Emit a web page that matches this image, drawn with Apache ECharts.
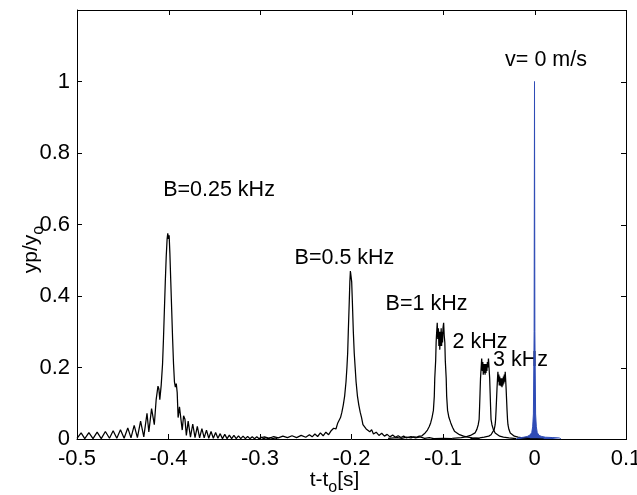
<!DOCTYPE html>
<html>
<head>
<meta charset="utf-8">
<script src="https://cdn.jsdelivr.net/npm/echarts@6/dist/echarts.min.js"></script>
<style>
html,body{margin:0;padding:0;background:#fff;}
#chart{width:637px;height:495px;}
</style>
</head>
<body>
<div id="chart"></div>
<script>
// ---- tick values and labels ----
const xTickValues = [-0.5, -0.4, -0.3, -0.2, -0.1, 0, 0.1];
const xTickLabels = ['-0.5', '-0.4', '-0.3', '-0.2', '-0.1', '0', '0.1'];
const yTickValues = [0, 0.2, 0.4, 0.6, 0.8, 1];
const yTickLabels = ['0', '0.2', '0.4', '0.6', '0.8', '1'];
const yFrameTicks = [0, 0.2, 0.4, 0.6, 0.8, 1, 1.2];

// ---- series: B = 0.25 kHz ----
const b025 = [
  [-0.5, 0.002], [-0.4955, 0.017], [-0.4915, 0.001], [-0.487, 0.018], [-0.4825, 0.001],
  [-0.478, 0.019], [-0.4735, 0.001], [-0.469, 0.021], [-0.4645, 0.002], [-0.4605, 0.023],
  [-0.4565, 0.002], [-0.4525, 0.026], [-0.4485, 0.002], [-0.4445, 0.031], [-0.441, 0.003],
  [-0.4375, 0.038], [-0.434, 0.004], [-0.4305, 0.050], [-0.427, 0.006], [-0.4235, 0.072],
  [-0.4215, 0.02], [-0.4185, 0.085], [-0.417, 0.08], [-0.4155, 0.04], [-0.4135, 0.11],
  [-0.4115, 0.148], [-0.4105, 0.14], [-0.4095, 0.11], [-0.408, 0.15], [-0.4065, 0.21],
  [-0.4055, 0.28], [-0.4045, 0.36], [-0.4035, 0.44], [-0.4025, 0.51], [-0.4015, 0.56],
  [-0.4008, 0.575], [-0.4, 0.56], [-0.3993, 0.57], [-0.3985, 0.52], [-0.3975, 0.44],
  [-0.3965, 0.36], [-0.3955, 0.28], [-0.3945, 0.21], [-0.3935, 0.16], [-0.3925, 0.145],
  [-0.3915, 0.155], [-0.3905, 0.13], [-0.3895, 0.06], [-0.388, 0.09], [-0.3865, 0.085],
  [-0.385, 0.025], [-0.3835, 0.065], [-0.382, 0.055], [-0.3805, 0.01], [-0.3785, 0.05],
  [-0.376, 0.005], [-0.3735, 0.042], [-0.371, 0.004], [-0.3685, 0.035], [-0.366, 0.003],
  [-0.3635, 0.029], [-0.361, 0.003], [-0.3585, 0.025], [-0.356, 0.002], [-0.3535, 0.021],
  [-0.351, 0.002], [-0.3485, 0.018], [-0.346, 0.002], [-0.3435, 0.015], [-0.341, 0.001],
  [-0.3385, 0.013], [-0.336, 0.001], [-0.3335, 0.011], [-0.331, 0.001], [-0.3285, 0.010],
  [-0.326, 0.001], [-0.3235, 0.009], [-0.321, 0.001], [-0.3185, 0.008], [-0.316, 0.001],
  [-0.3135, 0.007], [-0.311, 0.001], [-0.3085, 0.006], [-0.306, 0.001], [-0.3035, 0.006],
  [-0.301, 0.001], [-0.2985, 0.005], [-0.296, 0.001], [-0.2935, 0.004], [-0.291, 0.001],
  [-0.2885, 0.004], [-0.286, 0.001], [-0.2835, 0.003], [-0.281, 0.001]
];

// ---- series: B = 0.5 kHz ----
const b05 = [
  [-0.30, 0.003], [-0.295, 0.006], [-0.29, 0.002], [-0.285, 0.007], [-0.28, 0.003],
  [-0.275, 0.008], [-0.27, 0.004], [-0.265, 0.009], [-0.26, 0.004], [-0.255, 0.010],
  [-0.25, 0.005], [-0.246, 0.012], [-0.243, 0.006], [-0.240, 0.014], [-0.237, 0.007],
  [-0.234, 0.017], [-0.231, 0.009], [-0.228, 0.019], [-0.225, 0.012], [-0.222, 0.024],
  [-0.2195, 0.03], [-0.217, 0.028], [-0.215, 0.045], [-0.2135, 0.04], [-0.212, 0.06],
  [-0.2105, 0.075], [-0.209, 0.095], [-0.2075, 0.12], [-0.206, 0.16], [-0.205, 0.2],
  [-0.2042, 0.24], [-0.2035, 0.3], [-0.2025, 0.38], [-0.2018, 0.44], [-0.2012, 0.47],
  [-0.2005, 0.455], [-0.1998, 0.44], [-0.199, 0.38], [-0.198, 0.3], [-0.197, 0.24],
  [-0.196, 0.2], [-0.195, 0.16], [-0.1935, 0.12], [-0.192, 0.095], [-0.1905, 0.075],
  [-0.189, 0.06], [-0.1875, 0.04], [-0.186, 0.045], [-0.184, 0.028], [-0.182, 0.033],
  [-0.18, 0.02], [-0.178, 0.026], [-0.176, 0.014], [-0.173, 0.019], [-0.17, 0.01],
  [-0.167, 0.016], [-0.164, 0.008], [-0.161, 0.013], [-0.158, 0.006], [-0.155, 0.011],
  [-0.152, 0.005], [-0.149, 0.009], [-0.146, 0.004], [-0.143, 0.008], [-0.14, 0.003],
  [-0.135, 0.007], [-0.13, 0.003], [-0.125, 0.006], [-0.12, 0.002], [-0.115, 0.004],
  [-0.11, 0.001], [-0.1, 0.002], [-0.09, 0.001]
];

// ---- series: B = 1 kHz ----
const b1 = [
  [-0.16, 0.002], [-0.15, 0.004], [-0.145, 0.002], [-0.14, 0.005], [-0.135, 0.003],
  [-0.132, 0.006], [-0.129, 0.005], [-0.126, 0.008], [-0.123, 0.009], [-0.1195, 0.017],
  [-0.117, 0.025], [-0.115, 0.035], [-0.1135, 0.045], [-0.112, 0.06], [-0.1105, 0.08],
  [-0.1095, 0.12], [-0.109, 0.17], [-0.108, 0.22], [-0.1075, 0.27], [-0.107, 0.295],
  [-0.1063, 0.325], [-0.1057, 0.28], [-0.105, 0.31], [-0.1045, 0.26], [-0.104, 0.30],
  [-0.1035, 0.25], [-0.103, 0.30], [-0.1025, 0.26], [-0.102, 0.31], [-0.1015, 0.26],
  [-0.101, 0.30], [-0.1005, 0.27], [-0.1, 0.31], [-0.0993, 0.325], [-0.0987, 0.29],
  [-0.098, 0.27], [-0.0975, 0.22], [-0.0965, 0.17], [-0.096, 0.12], [-0.095, 0.08],
  [-0.0935, 0.06], [-0.0915, 0.045], [-0.0895, 0.032], [-0.0875, 0.022], [-0.0855, 0.017],
  [-0.082, 0.012], [-0.0775, 0.008], [-0.073, 0.005], [-0.068, 0.003], [-0.06, 0.001]
];

// ---- series: B = 2 kHz ----
const b2 = [
  [-0.09, 0.002], [-0.08, 0.004], [-0.075, 0.006], [-0.07, 0.01], [-0.065, 0.017],
  [-0.063, 0.027], [-0.0615, 0.04], [-0.0605, 0.055], [-0.06, 0.09], [-0.0595, 0.13],
  [-0.059, 0.17], [-0.0583, 0.2], [-0.0577, 0.225], [-0.057, 0.19], [-0.0565, 0.215],
  [-0.056, 0.18], [-0.0555, 0.21], [-0.055, 0.185], [-0.0545, 0.21], [-0.054, 0.18],
  [-0.0535, 0.21], [-0.053, 0.185], [-0.0525, 0.21], [-0.052, 0.19], [-0.0515, 0.215],
  [-0.051, 0.2], [-0.0503, 0.225], [-0.0497, 0.2], [-0.049, 0.17], [-0.0485, 0.13],
  [-0.048, 0.09], [-0.0475, 0.055], [-0.0465, 0.04], [-0.045, 0.027], [-0.043, 0.017],
  [-0.041, 0.012], [-0.038, 0.008], [-0.034, 0.005], [-0.028, 0.003], [-0.02, 0.001]
];

// ---- series: B = 3 kHz ----
const b3 = [
  [-0.07, 0.001], [-0.06, 0.003], [-0.055, 0.005], [-0.05, 0.008], [-0.0475, 0.012],
  [-0.0455, 0.017], [-0.044, 0.027], [-0.043, 0.04], [-0.0425, 0.055], [-0.042, 0.08],
  [-0.0415, 0.11], [-0.041, 0.14], [-0.0405, 0.165], [-0.04, 0.188], [-0.0395, 0.16],
  [-0.039, 0.18], [-0.0385, 0.15], [-0.038, 0.175], [-0.0375, 0.15], [-0.037, 0.17],
  [-0.0365, 0.148], [-0.036, 0.17], [-0.0355, 0.145], [-0.035, 0.17], [-0.0345, 0.15],
  [-0.034, 0.175], [-0.0335, 0.155], [-0.033, 0.18], [-0.0325, 0.16], [-0.032, 0.188],
  [-0.0315, 0.165], [-0.031, 0.14], [-0.0305, 0.11], [-0.03, 0.08], [-0.0295, 0.055],
  [-0.029, 0.04], [-0.028, 0.027], [-0.0265, 0.017], [-0.0245, 0.012], [-0.022, 0.008],
  [-0.018, 0.005], [-0.013, 0.003], [-0.005, 0.001], [0.01, 0.0]
];

// ---- series: v = 0 m/s ----
const v0 = [
  [-0.02, 0.0], [-0.017, 0.003], [-0.012, 0.005], [-0.008, 0.007], [-0.005, 0.011],
  [-0.003, 0.018], [-0.002, 0.034], [-0.0012, 0.07], [-0.0004, 0.3], [0, 1.0],
  [0.0004, 0.3], [0.0012, 0.07], [0.002, 0.034], [0.003, 0.018], [0.005, 0.01],
  [0.008, 0.007], [0.012, 0.005], [0.02, 0.004], [0.027, 0.003], [0.029, 0.0]
];

// ---- annotation texts and anchor (data coords) ----
const noteTexts = ['B=0.25 kHz', 'B=0.5 kHz', 'B=1 kHz', '2 kHz', '3 kHz', 'v= 0 m/s'];
const noteX = [-0.3448, -0.2077, -0.118, -0.0596, -0.0153, 0.0126];
const noteY = [0.696, 0.506, 0.377, 0.271, 0.22, 1.059];

const X_MIN = -0.5, X_MAX = 0.1, Y_MIN = 0, Y_MAX = 1.2;
const FONT = 'Liberation Sans, Arial, sans-serif';
const fmtX = v => { const i = xTickValues.findIndex(t => Math.abs(t - v) < 1e-9); return i >= 0 ? xTickLabels[i] : ''; };
const fmtY = v => { const i = yTickValues.findIndex(t => Math.abs(t - v) < 1e-9); return i >= 0 ? yTickLabels[i] : ''; };

const mkAxisLine = () => ({ show: true, onZero: false, lineStyle: { color: '#000', width: 1 } });
const mkTick = () => ({ show: true, inside: true, length: 5, lineStyle: { color: '#000', width: 1 } });

const chart = echarts.init(document.getElementById('chart'), null, { renderer: 'canvas' });
const blackLine = (name, data) => ({
  name, type: 'line', data, xAxisIndex: 0, yAxisIndex: 0,
  showSymbol: false, symbol: 'none', animation: false, silent: true,
  lineStyle: { color: '#000', width: 1.25 }
});

chart.setOption({
  animation: false,
  textStyle: { fontFamily: FONT },
  grid: { left: 77, right: 11, top: 10, bottom: 56, containLabel: false, outerBoundsMode: 'none' },
  xAxis: {
    type: 'value', min: X_MIN, max: X_MAX, interval: 0.1, position: 'bottom',
    axisLine: mkAxisLine(), axisTick: mkTick(), splitLine: { show: false },
    axisLabel: { formatter: fmtX, color: '#000', fontSize: 22, fontFamily: FONT, margin: 9 },
    name: 't-t{sub|o}[s]', nameLocation: 'middle', nameGap: 26, nameMoveOverlap: false,
    nameTextStyle: { color: '#000', fontSize: 21, fontFamily: FONT, padding: [0, 34, 0, 0],
      rich: { sub: { fontSize: 16, fontFamily: FONT, color: '#000', padding: [15, 0, 0, 0] } } }
  },
  yAxis: {
    type: 'value', min: Y_MIN, max: Y_MAX, interval: 0.2, position: 'left',
    axisLine: mkAxisLine(), axisTick: mkTick(), splitLine: { show: false },
    axisLabel: { formatter: fmtY, color: '#000', fontSize: 22, fontFamily: FONT, margin: 7 },
    name: 'yp/y{sub|o}', nameLocation: 'middle', nameGap: 30, nameRotate: 90, nameMoveOverlap: false,
    nameTextStyle: { color: '#000', fontSize: 21, fontFamily: FONT, padding: [0, 50, 0, 0],
      rich: { sub: { fontSize: 16, fontFamily: FONT, color: '#000', padding: [15, 0, 0, 0] } } }
  },
  series: [
    blackLine('B=0.25 kHz', b025),
    blackLine('B=0.5 kHz', b05),
    blackLine('B=1 kHz', b1),
    blackLine('2 kHz', b2),
    blackLine('3 kHz', b3),
    {
      name: 'v=0', type: 'line', data: v0, showSymbol: false, symbol: 'none', silent: true,
      lineStyle: { color: '#2f4cb6', width: 1 },
      areaStyle: { color: '#2f4cb6', opacity: 1 }
    },
    {
      name: 'notes', type: 'scatter', symbolSize: 0, silent: true,
      data: noteTexts.map((t, i) => ({ value: [noteX[i], noteY[i]], name: t })),
      label: { show: true, position: [0, 0], formatter: '{b}', color: '#000', opacity: 1,
        fontSize: 21.5, fontFamily: FONT, align: 'center', verticalAlign: 'middle' }
    }
  ]
});

// ---- frame: top and right edges with inward ticks, placed through the axis scales ----
const toPx = (x, y) => chart.convertToPixel({ xAxisIndex: 0, yAxisIndex: 0 }, [x, y]);
const [xl, yb] = toPx(X_MIN, Y_MIN);
const [xr, yt] = toPx(X_MAX, Y_MAX);
const crisp = v => Math.round(v) + 0.5;
const frameStyle = { stroke: '#000', lineWidth: 1 };
const frame = [
  { type: 'line', silent: true, z: 100, shape: { x1: xl, y1: crisp(yt), x2: xr + 1, y2: crisp(yt) }, style: frameStyle },
  { type: 'line', silent: true, z: 100, shape: { x1: crisp(xr), y1: yt, x2: crisp(xr), y2: yb + 1 }, style: frameStyle }
];
xTickValues.forEach(v => {
  const px = crisp(toPx(v, Y_MAX)[0]);
  frame.push({ type: 'line', silent: true, z: 100, shape: { x1: px, y1: yt, x2: px, y2: yt + 5 }, style: frameStyle });
});
yFrameTicks.forEach(v => {
  const py = crisp(toPx(X_MAX, v)[1]);
  frame.push({ type: 'line', silent: true, z: 100, shape: { x1: xr, y1: py, x2: xr - 5, y2: py }, style: frameStyle });
});
chart.setOption({ graphic: frame });
</script>
</body>
</html>
